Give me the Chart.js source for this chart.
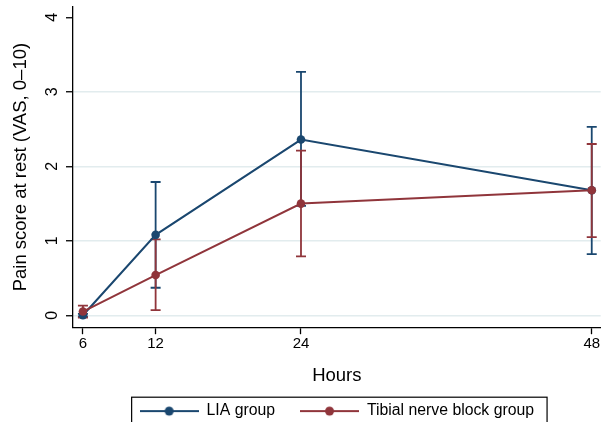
<!DOCTYPE html>
<html><head><meta charset="utf-8">
<script src="https://cdn.jsdelivr.net/npm/chart.js@4/dist/chart.umd.min.js"></script>
<style>html,body{margin:0;padding:0;background:#fff}#wrap{width:605px;height:422px;position:relative}</style>
</head><body><div id="wrap"><canvas id="c" width="605" height="422"></canvas></div>
<script>
// ---- data ----
const hours = [6, 12, 24, 48];
const xTickValues = [6, 12, 24, 48];
const yTickValues = [0, 1, 2, 3, 4];
const seriesNames = ['LIA group', 'Tibial nerve block group'];
const liaMean = [0.00, 1.08, 2.36, 1.68];
const liaLow  = [-0.02, 0.37, 1.47, 0.82];
const liaHigh = [0.02, 1.79, 3.27, 2.53];
const tnbMean = [0.05, 0.54, 1.50, 1.68];
const tnbLow  = [-0.03, 0.07, 0.79, 1.05];
const tnbHigh = [0.13, 1.02, 2.21, 2.30];
const yTitle = 'Pain score at rest (VAS, 0–10)';
const xTitle = 'Hours';

// ---- styles ----
const colors = ['#1a476f', '#90353b'];
const FONT = "'Liberation Sans', Arial, sans-serif";

function legendImage(color) {
  const c = document.createElement('canvas');
  c.width = 59; c.height = 16;
  const g = c.getContext('2d');
  g.strokeStyle = color; g.lineWidth = 2;
  g.beginPath(); g.moveTo(0, 8); g.lineTo(59, 8); g.stroke();
  g.fillStyle = color; g.beginPath(); g.arc(29.5, 8, 4.5, 0, Math.PI * 2); g.fill();
  return c;
}
const legendImgs = colors.map(legendImage);

const errSets = [
  {low: liaLow, high: liaHigh, color: colors[0]},
  {low: tnbLow, high: tnbHigh, color: colors[1]}
];

const errorBarPlugin = {
  id: 'errorBars',
  beforeDatasetsDraw(chart) {
    const {ctx, scales: {x, y}} = chart;
    ctx.save();
    ctx.lineWidth = 1.8;
    errSets.forEach(s => {
      ctx.strokeStyle = s.color;
      hours.forEach((h, i) => {
        const px = x.getPixelForValue(h);
        const pl = y.getPixelForValue(s.low[i]);
        const ph = y.getPixelForValue(s.high[i]);
        ctx.beginPath();
        ctx.moveTo(px, pl); ctx.lineTo(px, ph);
        ctx.moveTo(px - 5, pl); ctx.lineTo(px + 5, pl);
        ctx.moveTo(px - 5, ph); ctx.lineTo(px + 5, ph);
        ctx.stroke();
      });
    });
    ctx.restore();
  }
};

const yLabelPlugin = {
  id: 'yRotLabels',
  afterDraw(chart) {
    const {ctx, scales: {y}} = chart;
    ctx.save();
    ctx.fillStyle = '#000';
    ctx.font = '16px ' + FONT;
    ctx.textAlign = 'center';
    ctx.textBaseline = 'middle';
    y.ticks.forEach(t => {
      const py = y.getPixelForValue(t.value);
      ctx.save();
      ctx.translate(y.right - 20, py);
      ctx.rotate(-Math.PI / 2);
      ctx.fillText(String(t.value), 0, 0);
      ctx.restore();
    });
    ctx.restore();
  }
};

const legendBoxPlugin = {
  id: 'legendBox',
  afterDraw(chart) {
    const lg = chart.legend;
    if (!lg || !lg.legendHitBoxes || !lg.legendHitBoxes.length) return;
    const hb = lg.legendHitBoxes;
    const first = hb[0], last = hb[hb.length - 1];
    const ctx = chart.ctx;
    ctx.save();
    ctx.strokeStyle = '#000';
    ctx.lineWidth = 1.2;
    const l = first.left - 8, r = last.left + last.width + 13, t = first.top - 6;
    ctx.strokeRect(l, t, r - l, 60);
    ctx.restore();
  }
};

new Chart(document.getElementById('c'), {
  type: 'line',
  data: {
    datasets: [
      {label: seriesNames[0], data: hours.map((h, i) => ({x: h, y: liaMean[i]})),
       borderColor: colors[0], backgroundColor: colors[0], borderWidth: 2,
       pointRadius: 4.3, pointBorderWidth: 0, pointBackgroundColor: colors[0], tension: 0, order: 2},
      {label: seriesNames[1], data: hours.map((h, i) => ({x: h, y: tnbMean[i]})),
       borderColor: colors[1], backgroundColor: colors[1], borderWidth: 2,
       pointRadius: 4.3, pointBorderWidth: 0, pointBackgroundColor: colors[1], tension: 0, order: 1}
    ]
  },
  options: {
    responsive: false,
    animation: false,
    layout: {padding: {left: 0, right: 2, top: 7, bottom: -7}},
    scales: {
      x: {
        type: 'linear', min: 5.18, max: 48.74,
        afterBuildTicks: s => { s.ticks = xTickValues.map(v => ({value: v})); },
        afterFit: s => { s.height = 51; },
        ticks: {color: '#000', font: {family: FONT, size: 15}, padding: 1, maxRotation: 0, autoSkip: false,
                callback: v => String(v)},
        grid: {drawOnChartArea: false, drawTicks: true, tickLength: 7, tickColor: '#000', tickWidth: 1.3},
        border: {display: true, color: '#000', width: 1.3},
        title: {display: true, text: xTitle, color: '#000', font: {family: FONT, size: 18.5},
                padding: {top: 0, bottom: -9}}
      },
      y: {
        type: 'linear', min: -0.16, max: 4.14,
        afterBuildTicks: s => { s.ticks = yTickValues.map(v => ({value: v})); },
        afterFit: s => { s.width = 73; },
        ticks: {display: false},
        grid: {color: ctx => (ctx.tick && ctx.tick.value === 4) ? 'rgba(0,0,0,0)' : '#e2ecee',
               lineWidth: 1.5, drawTicks: true, tickLength: 7, tickColor: '#000', tickWidth: 1.3},
        border: {display: true, color: '#000', width: 1.3},
        title: {display: true, text: yTitle, color: '#000', font: {family: FONT, size: 18.5},
                padding: {top: 9.5, bottom: 0}}
      }
    },
    plugins: {
      tooltip: {enabled: false},
      legend: {
        position: 'bottom', fullSize: false,
        labels: {
          usePointStyle: true, pointStyleWidth: 59, padding: 25, color: '#000',
          font: {family: FONT, size: 15.8},
          generateLabels: chart => chart.data.datasets.map((ds, i) => ({
            text: ds.label, pointStyle: legendImgs[i], fillStyle: ds.borderColor,
            strokeStyle: ds.borderColor, lineWidth: 0, hidden: false, datasetIndex: i, fontColor: '#000'
          }))
        }
      }
    }
  },
  plugins: [errorBarPlugin, yLabelPlugin, legendBoxPlugin]
});
</script>
</body></html>
